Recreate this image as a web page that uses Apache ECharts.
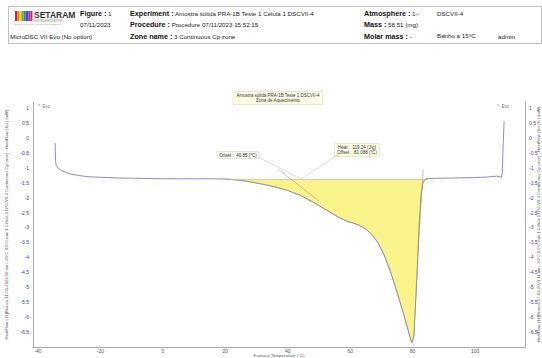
<!DOCTYPE html>
<html>
<head>
<meta charset="utf-8">
<script src="https://cdn.jsdelivr.net/npm/echarts@6/dist/echarts.min.js"></script>
<style>
  html, body { margin: 0; padding: 0; background: #fff; }
  #chart { width: 542px; height: 358px; }
</style>
</head>
<body>
<div id="chart"></div>
<script>
// furnace temperature (°C) and heat flow (mW)
const tempC = [
  -34.5, -34.45, -34.4, -34.2, -33.5, -32, -30, -27, -24, -20, -15, -10, -5, 0, 5, 10, 15,
  20, 24, 28, 32, 36, 40, 44, 48, 52, 56, 59, 61, 63, 65, 67, 69, 71, 73, 75, 77, 78.5,
  79.5, 79.9, 80.4, 80.9, 81.5, 82.1, 82.7, 83.3, 84, 85, 90, 95, 100, 104, 107, 108,
  108.4, 108.7, 108.9, 109.1, 109.3
];
const heatFlow = [
  -0.17, -0.45, -0.75, -0.92, -1.02, -1.12, -1.2, -1.26, -1.3, -1.32, -1.34, -1.35, -1.36, -1.37, -1.37, -1.37, -1.37,
  -1.38, -1.41, -1.47, -1.55, -1.64, -1.76, -1.92, -2.14, -2.39, -2.64, -2.79, -2.85, -2.93, -3.05, -3.24, -3.52, -3.95, -4.5, -5.15, -5.85, -6.4,
  -6.78, -6.85, -6.6, -5.6, -4.3, -2.9, -1.9, -1.5, -1.39, -1.36, -1.35, -1.34, -1.33, -1.31, -1.28, -1.3,
  -1.33, -1.2, -0.6, 0.0, 0.55
];
const xTicks = [-40, -20, 0, 20, 40, 60, 80, 100];
const yTicks = [1, 0.5, 0, -0.5, -1, -1.5, -2, -2.5, -3, -3.5, -4, -4.5, -5, -5.5, -6, -6.5];

// integration zone
const peakStart = 19;
const peakEnd = 85;
const baseline = -1.37;
const onsetTangent = [[37, -1.05], [50, -2.12]];
const peakEdge = [[83.4, -1.05], [81.8, -3.7]];

const curve = tempC.map((t, i) => [t, heatFlow[i]]);
const peakPart = curve.filter((p) => p[0] >= peakStart && p[0] <= peakEnd);

const FONT = 'Liberation Sans, Arial, sans-serif';
const chart = echarts.init(document.getElementById('chart'), null, { renderer: 'svg' });

const fmtY = (v) => (yTicks.includes(v) ? String(v) : '');
const yAxisBase = {
  type: 'value',
  min: -7,
  max: 1.2,
  nameLocation: 'middle',
  nameRotate: 90,
  nameMoveOverlap: false,
  nameTextStyle: { fontSize: 4.2, color: '#555', fontFamily: FONT },
  axisLine: { show: true, onZero: false, lineStyle: { color: '#aaa', width: 1 } },
  axisTick: { show: false },
  splitLine: { show: false },
  axisLabel: { customValues: yTicks, fontSize: 5, color: '#3a3ad0', fontFamily: FONT, formatter: fmtY, margin: 4 },
};

const hdr = (x, y, txt) => ({
  type: 'text',
  x: x,
  y: y,
  style: {
    text: txt,
    fontSize: 6.2,
    fontFamily: FONT,
    fill: '#222',
    rich: { b: { fontWeight: 'bold', fontSize: 7.2, fontFamily: FONT, fill: '#111' } },
  },
});

const stripes = ['#e02020', '#f07a10', '#f5d000', '#40b040', '#2a80d0', '#6040b0', '#c03090', '#e02060'];

const option = {
  animation: false,
  grid: { left: 33, right: 17, top: 102, bottom: 11, containLabel: false, outerBoundsMode: 'none' },
  xAxis: {
    type: 'value',
    min: -41.6,
    max: 116,
    name: 'Furnace Temperature (°C)',
    nameLocation: 'middle',
    nameGap: 6,
    nameMoveOverlap: false,
    nameTextStyle: { fontSize: 4.4, color: '#555', fontFamily: FONT },
    axisLine: { onZero: false, lineStyle: { color: '#aaa', width: 1 } },
    axisTick: { show: false },
    splitLine: { show: false },
    axisLabel: { customValues: xTicks, fontSize: 5, color: '#555', fontFamily: FONT, margin: 1 },
  },
  yAxis: [
    Object.assign({}, yAxisBase, {
      position: 'left',
      name: 'HeatFlow | H [Branco 11-03-2023 10 dan -20°C 0.5°C min 1 Célula 1 DSCVII-4 Continuous Cp zone] - HeatFlow | bd | (mW)',
      nameGap: 25,
    }),
    Object.assign({}, yAxisBase, {
      position: 'right',
      name: 'HeatFlow | H [Branco 17-03-2023 11 min -20°C 0.5°C min 1 Célula 1 DSCVII-4 Continuous Cp zone] - HeatFlow | bd | b | (mW)',
      nameGap: 11,
      nameRotate: 90,
    }),
  ],
  series: [
    {
      type: 'line',
      data: peakPart,
      showSymbol: false,
      silent: true,
      lineStyle: { color: '#888', width: 0.8 },
      areaStyle: { color: '#faf38c', opacity: 1, origin: baseline },
      z: 2,
      markLine: {
        silent: true,
        symbol: 'none',
        label: { show: false },
        lineStyle: { type: 'solid', width: 0.6 },
        data: [
          [{ coord: [peakStart, baseline], lineStyle: { color: '#bbb' } }, { coord: [peakEnd, baseline] }],
          [{ coord: onsetTangent[0], lineStyle: { color: '#999' } }, { coord: onsetTangent[1] }],
          [{ coord: peakEdge[0], lineStyle: { color: '#999' } }, { coord: peakEdge[1] }],
        ],
      },
    },
    {
      type: 'line',
      data: curve,
      showSymbol: false,
      silent: true,
      lineStyle: { color: '#8a8ad8', width: 1 },
      z: 1,
    },
  ],
  graphic: [
    // header frame
    { type: 'rect', shape: { x: 8.5, y: 6.5, width: 533, height: 37 }, style: { fill: 'none', stroke: '#999', lineWidth: 0.6 } },
    ...stripes.map((c, i) => ({ type: 'rect', shape: { x: 15 + i * 2.2, y: 11, width: 2, height: 10 }, style: { fill: c } })),
    { type: 'text', x: 34, y: 10, style: { text: 'SETARAM', fontSize: 8.5, fontWeight: 'bold', fontFamily: FONT, fill: '#333' } },
    { type: 'text', x: 34, y: 19, style: { text: 'INSTRUMENTATION', fontSize: 3, fontFamily: FONT, fill: '#888' } },
    { type: 'text', x: 14, y: 22.5, style: { text: 'S O L U T I O N S   I N S T R U M E N T S', fontSize: 2.5, fontFamily: FONT, fill: '#888' } },
    hdr(80, 10, '{b|Figure :} 1'),
    hdr(80, 21, '07/11/2023'),
    hdr(10, 33, 'MicroDSC VII Evo (No option)'),
    hdr(130, 10, '{b|Experiment :} Amostra sólida PRA-1B Teste 1 Célula 1 DSCVII-4'),
    hdr(130, 21, '{b|Procedure :} Procedure 07/11/2023 15:52:15'),
    hdr(130, 33, '{b|Zone name :} 3 Continuous Cp zone'),
    hdr(364, 10, '{b|Atmosphere :} 1:-'),
    hdr(364, 21, '{b|Mass :} 58.51 (mg)'),
    hdr(364, 33, '{b|Molar mass :} -'),
    hdr(437, 10, 'DSCVII-4'),
    hdr(437, 32, 'Banho a 15°C'),
    hdr(498, 33, 'admin'),
    // exo markers
    { type: 'text', x: 38, y: 104, style: { text: '^  Exo', fontSize: 4.5, fontFamily: FONT, fill: '#777' } },
    { type: 'text', x: 497, y: 104, style: { text: '^  Exo', fontSize: 4.5, fontFamily: FONT, fill: '#777' } },
    // annotation boxes
    {
      type: 'text', x: 278, y: 98,
      style: {
        text: 'Amostra sólida PRA-1B Teste 1 DSCVII-4\nZona de Aquecimento',
        align: 'center', verticalAlign: 'middle', fontSize: 4.5, lineHeight: 5.5, fontFamily: FONT, fill: '#333',
        backgroundColor: '#fdfde4', borderColor: '#ccc', borderWidth: 0.5, padding: [1, 3],
      },
    },
    {
      type: 'text', x: 238, y: 155,
      style: {
        text: 'Onset :  40.85 (°C)', align: 'center', verticalAlign: 'middle', fontSize: 4.5, fontFamily: FONT, fill: '#333',
        backgroundColor: '#f6f6ee', borderColor: '#ccc', borderWidth: 0.5, padding: [1, 2],
      },
    },
    {
      type: 'text', x: 357, y: 150,
      style: {
        text: 'Heat :  119.24 (J/g)\nOffset :  81.088 (°C)', align: 'center', verticalAlign: 'middle', fontSize: 4.5, lineHeight: 5.5, fontFamily: FONT, fill: '#333',
        backgroundColor: '#fdfde4', borderColor: '#ccc', borderWidth: 0.5, padding: [1, 2],
      },
    },
    { type: 'line', shape: { x1: 258, y1: 157, x2: 301, y2: 179 }, style: { stroke: '#bbb', lineWidth: 0.5 } },
    { type: 'line', shape: { x1: 337, y1: 155, x2: 301, y2: 179 }, style: { stroke: '#bbb', lineWidth: 0.5 } },
  ],
};

chart.setOption(option);
</script>
</body>
</html>
